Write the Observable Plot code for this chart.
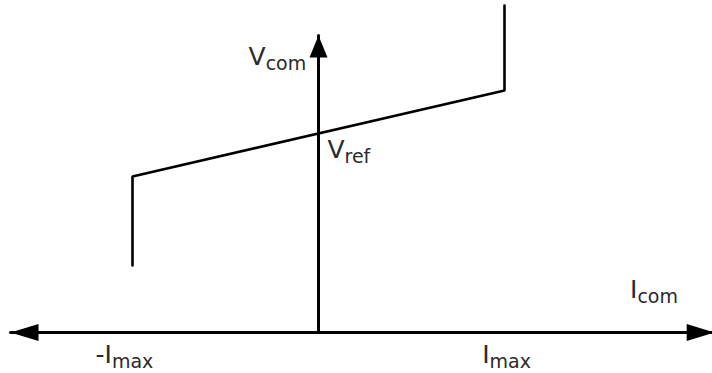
<!DOCTYPE html>
<html><head><meta charset="utf-8">
<script src="https://cdn.jsdelivr.net/npm/d3@7"></script>
<script src="https://cdn.jsdelivr.net/npm/@observablehq/plot@0.6"></script>
<style>html,body{margin:0;padding:0;background:#fff;overflow:hidden}</style>
</head><body><div id="chart"></div>
<script>
// Characteristic curve (I in units of Imax, V in units of Vref)
const curveI = [-1, -1, 1, 1];
const curveV = [0.337, 0.784, 1.216, 1.643];
// Axes extents
const xAxisI = [-1.656, 2.13];
const yAxisV = [0, 1.492];
// Labels
const labelMain = ["V", "V", "I", "-I", "I"];
const labelSub = ["com", "ref", "com", "max", "max"];
const labelI = [-0.376, 0.048, 1.675, -1.199, 0.88];
const labelV = [1.342, 0.879, 0.171, -0.151, -0.151];

const curve = curveI.map((I, i) => ({I, V: curveV[i]}));
const xAxisLine = xAxisI.map(I => ({I, V: 0}));
const yAxisLine = yAxisV.map(V => ({I: 0, V}));
const labels = labelMain.map((t, i) => ({t, s: labelSub[i], I: labelI[i], V: labelV[i]}));

const headH = {draw(ctx) { ctx.moveTo(0, 0); ctx.lineTo(-8.5, 28); ctx.lineTo(8.5, 28); ctx.closePath(); }};
const headV = {draw(ctx) { ctx.moveTo(0, 0); ctx.lineTo(-9, 22); ctx.lineTo(9, 22); ctx.closePath(); }};

const chart = Plot.plot({
  width: 712,
  height: 373,
  margin: 0,
  style: {background: "#fff"},
  x: {domain: [-318 / 186, 394 / 186], axis: null},
  y: {domain: [-41 / 199, 332 / 199], axis: null},
  marks: [
    Plot.line(xAxisLine, {x: "I", y: "V", stroke: "#000", strokeWidth: 3}),
    Plot.line(yAxisLine, {x: "I", y: "V", stroke: "#000", strokeWidth: 3}),
    Plot.line(curve, {x: "I", y: "V", stroke: "#000", strokeWidth: 2.6, strokeLinejoin: "miter"}),
    Plot.dot(xAxisLine, {x: "I", y: "V", symbol: headH, rotate: (d, i) => i === 0 ? -90 : 90, fill: "#000", stroke: "none"}),
    Plot.dot(yAxisLine.slice(1), {x: "I", y: "V", symbol: headV, fill: "#000", stroke: "none"}),
    Plot.text(labels, {x: "I", y: "V", text: "t", textAnchor: "start", lineAnchor: "bottom",
      fontSize: 25, fontFamily: "DejaVu Sans", fill: "#2a2a2a", className: "lbl"})
  ]
});

d3.select(chart).selectAll(".lbl text").each(function(_, i) {
  d3.select(this).append("tspan").attr("dy", 5).attr("font-size", 19).text(labels[i].s);
});

document.getElementById("chart").appendChild(chart);
</script>
</body></html>
